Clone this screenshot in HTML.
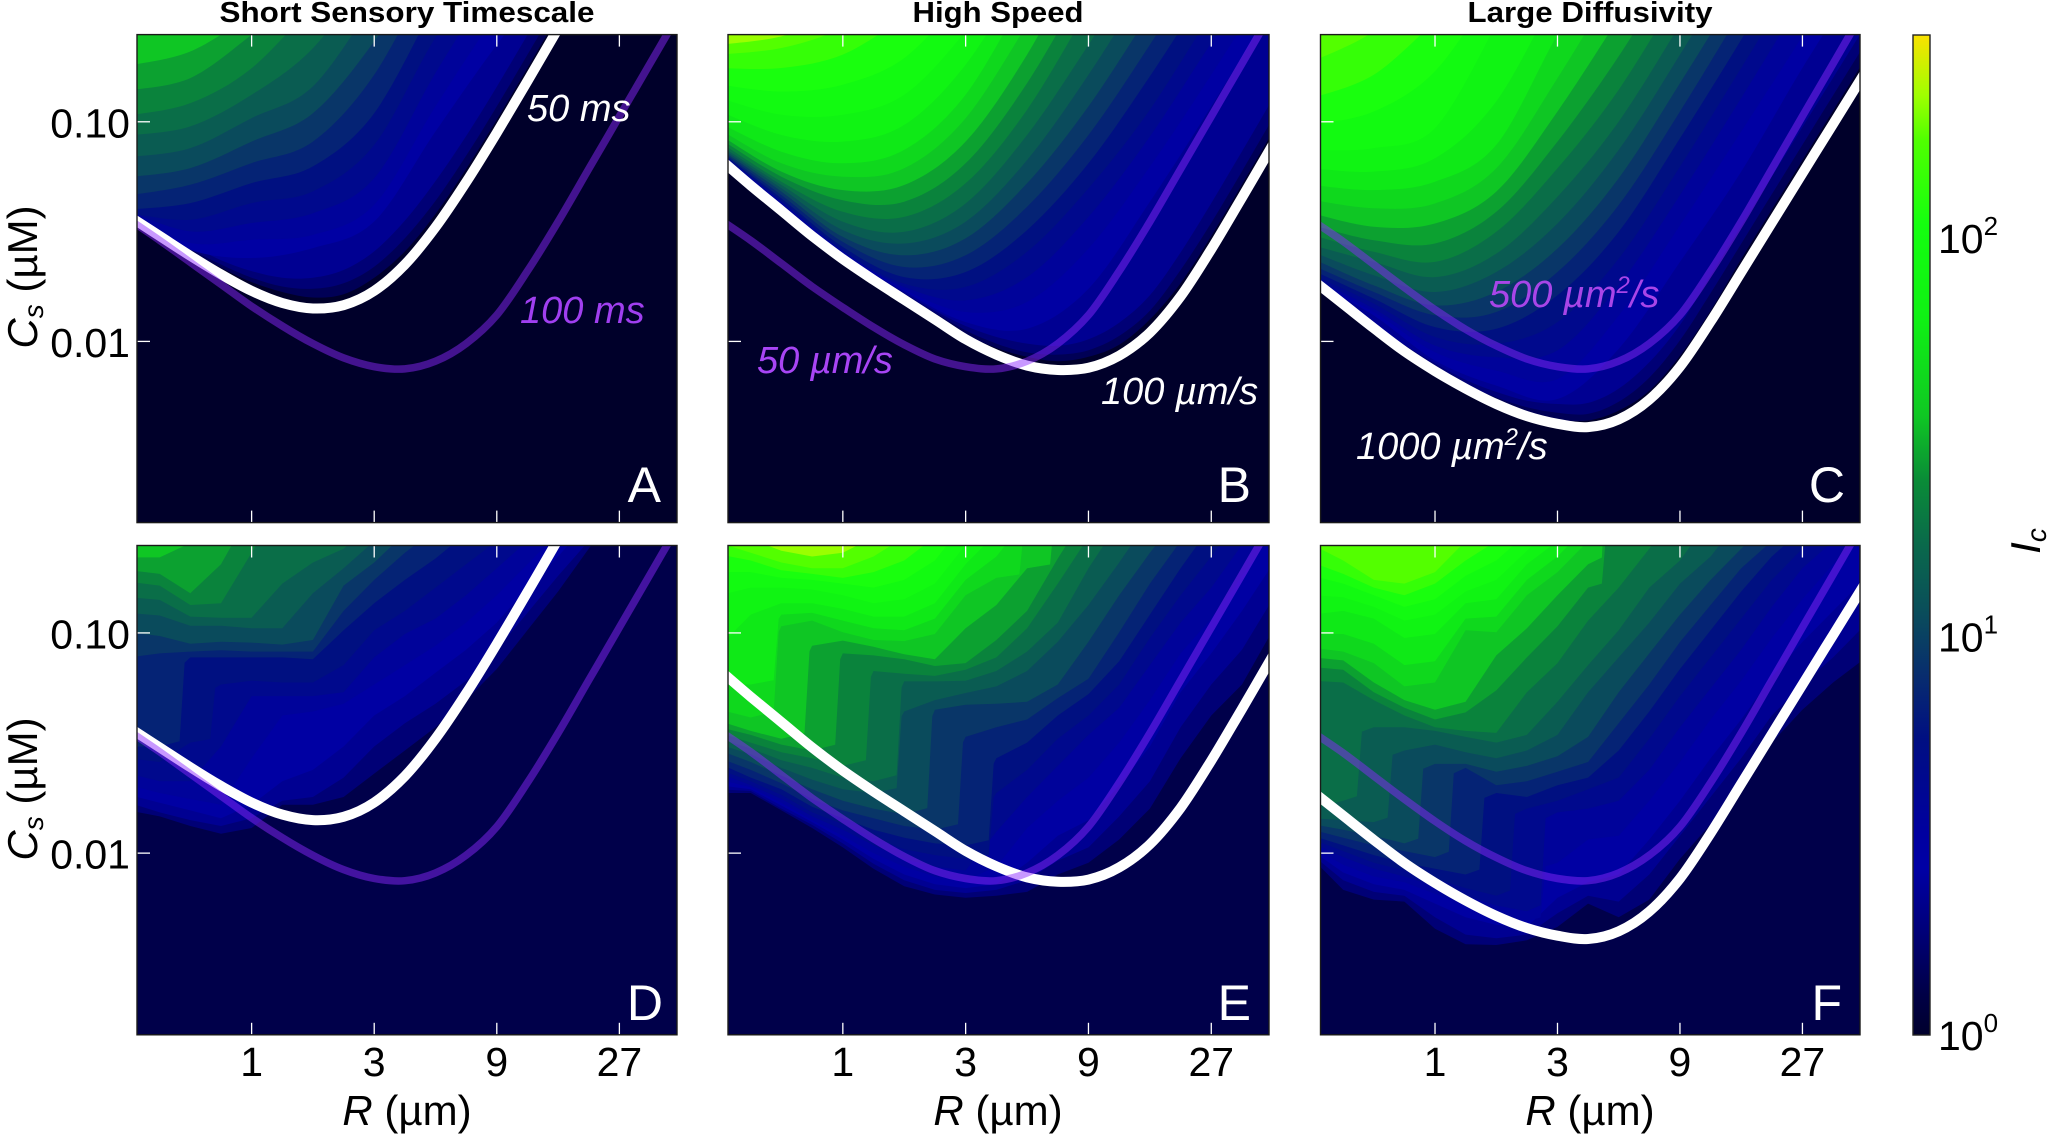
<!DOCTYPE html>
<html lang="en">
<head>
<meta charset="utf-8">
<title>Critical amplification heatmaps</title>
<style>
html,body{margin:0;padding:0;background:#fff;}
svg{display:block;font-family:"Liberation Sans",sans-serif;}
</style>
</head>
<body>
<svg id="figure" xmlns="http://www.w3.org/2000/svg" width="2048" height="1136" viewBox="0 0 2048 1136">
  <defs id="defs"></defs>
  <rect x="0" y="0" width="2048" height="1136" fill="#fff"/>
  <g id="plots"></g>

  <g font-weight="bold" font-size="29" text-anchor="middle" fill="#000">
    <text x="407" y="22" textLength="375" lengthAdjust="spacingAndGlyphs">Short Sensory Timescale</text>
    <text x="998" y="22" textLength="171" lengthAdjust="spacingAndGlyphs">High Speed</text>
    <text x="1590" y="22" textLength="245" lengthAdjust="spacingAndGlyphs">Large Diffusivity</text>
  </g>

  <g font-size="50" text-anchor="end" fill="#fff">
    <text x="661" y="502">A</text>
    <text x="1251" y="502">B</text>
    <text x="1845" y="502">C</text>
    <text x="663" y="1020">D</text>
    <text x="1251" y="1020">E</text>
    <text x="1842" y="1020">F</text>
  </g>

  <g font-size="38" font-style="italic">
    <text x="527" y="121" fill="#fff">50 ms</text>
    <text x="520" y="323" fill="#a03ff0">100 ms</text>
    <text x="757" y="373" fill="#a845f5">50 µm/s</text>
    <text x="1101" y="404" fill="#fff">100 µm/s</text>
    <text x="1489" y="307" fill="#a845e8">500 µm<tspan dy="-14" font-size="24">2</tspan><tspan dy="14">/s</tspan></text>
    <text x="1356" y="459" fill="#fff">1000 µm<tspan dy="-14" font-size="24">2</tspan><tspan dy="14">/s</tspan></text>
  </g>

  <g font-size="42" fill="#000">
    <text transform="translate(37,277) rotate(-90)" text-anchor="middle"><tspan font-style="italic">C</tspan><tspan font-style="italic" font-size="28" dy="6">s</tspan><tspan dy="-6"> (µM)</tspan></text>
    <text transform="translate(37,789) rotate(-90)" text-anchor="middle"><tspan font-style="italic">C</tspan><tspan font-style="italic" font-size="28" dy="6">s</tspan><tspan dy="-6"> (µM)</tspan></text>
    <text x="407" y="1125" text-anchor="middle"><tspan font-style="italic">R</tspan> (µm)</text>
    <text x="998" y="1125" text-anchor="middle"><tspan font-style="italic">R</tspan> (µm)</text>
    <text x="1590" y="1125" text-anchor="middle"><tspan font-style="italic">R</tspan> (µm)</text>
    <text transform="translate(2040,541) rotate(-90)" text-anchor="middle"><tspan font-style="italic">I</tspan><tspan font-style="italic" font-size="28" dy="6">c</tspan></text>
  </g>

  <g id="colorbar"></g>
</svg>

<script>
/* ---------- axis tick data ---------- */
const xTickValues = [1, 3, 9, 27];
const xTickLabels = ["1", "3", "9", "27"];
const yTickValues = [0.1, 0.01];
const yTickLabels = ["0.10", "0.01"];
const colorbarTickValues = [1, 10, 100];
const colorbarTickExponents = ["0", "1", "2"];

/* ---------- colour scale: fraction of the log colourbar and its colour ---------- */
const colorPositions = [0, .04, .103, .167, .2, .296, .36, .425, .49, .555, .62, .715, .81, .895, .94, 1];
const colorValues = ["#00002d", "#000046", "#000078", "#0000a5", "#0000a0", "#000f82", "#082d6e", "#0a4e5a", "#0a694b", "#0a8c37", "#0fc823", "#0ff014", "#14ff0f", "#50ff00", "#a0ff00", "#fae100"];

/* ---------- contour levels: Ic value at the lower edge of each filled band ---------- */
const contourLevels = [1, 1.26, 1.59, 2.0, 2.52, 3.17, 3.99, 5.02, 6.32, 7.96, 10.0, 12.6, 15.9, 20.0, 25.2, 31.7, 39.9, 50.2, 63.2, 79.6, 100, 126, 159, 200];

/* ---------- shared log3(R) sample columns ---------- */
const logRFine = [-1, -.75, -.5, -.25, 0, .25, .5, .75, 1, 1.25, 1.5, 1.75, 2, 2.25, 2.5, 2.75, 3, 3.25, 3.5];
const logRCoarse = [-1, -.5, 0, .5, 1, 1.5, 2, 2.5, 3, 3.5];

/* ---------- threshold curves: log10(Cs) at logRFine ---------- */
const curve50ms = [-1.43, -1.52, -1.61, -1.695, -1.77, -1.825, -1.85, -1.835, -1.77, -1.65, -1.48, -1.275, -1.05, -.815, -.575, -.335, -.095, .145, .385];
const curve100ms = [-1.445, -1.54, -1.64, -1.74, -1.84, -1.93, -2.01, -2.075, -2.115, -2.125, -2.09, -2.01, -1.88, -1.68, -1.455, -1.215, -.975, -.735, -.495];
const curve100ums = [-1.17, -1.29, -1.405, -1.52, -1.625, -1.72, -1.81, -1.90, -1.99, -2.06, -2.11, -2.13, -2.12, -2.065, -1.96, -1.795, -1.58, -1.345, -1.105];
const curve50ums = [-1.445, -1.54, -1.645, -1.75, -1.845, -1.935, -2.015, -2.08, -2.115, -2.125, -2.09, -2.01, -1.88, -1.68, -1.455, -1.215, -.975, -.735, -.495];
const curve1000um2 = [-1.72, -1.83, -1.94, -2.045, -2.135, -2.215, -2.285, -2.34, -2.375, -2.39, -2.355, -2.265, -2.115, -1.91, -1.685, -1.46, -1.235, -1.01, -.785];
const curve500um2 = [-1.45, -1.545, -1.65, -1.755, -1.855, -1.945, -2.02, -2.08, -2.115, -2.125, -2.09, -2.01, -1.88, -1.68, -1.455, -1.215, -.975, -.735, -.495];

/* ---------- panel A contours: level index -> log10(Cs) ---------- */
const fineA = {
  1: [-1.42, -1.51, -1.59, -1.665, -1.73, -1.775, -1.80, -1.785, -1.71, -1.59, -1.42, -1.215, -.99, -.755, -.515],
  2: [-1.42, -1.50, -1.58, -1.65, -1.71, -1.75, -1.76, -1.735, -1.66, -1.53, -1.36, -1.155, -.93, -.695, -.455],
  3: [-1.42, -1.49, -1.56, -1.63, -1.68, -1.71, -1.71, -1.675, -1.59, -1.45, -1.27, -1.065, -.84, -.605, -.365]
};
const coarseA = {
  4: [-1.43, -1.583, -1.62, -1.575, -1.454, -1.044, -.65, -.3],
  5: [-1.43, -1.552, -1.537, -1.515, -1.378, -.93, -.513, -.2],
  6: [-1.408, -1.499, -1.461, -1.416, -1.257, -.778, -.331],
  7: [-1.416, -1.446, -1.37, -1.317, -1.105, -.616, -.225],
  8: [-1.40, -1.37, -1.279, -1.203, -.961, -.452],
  9: [-1.335, -1.287, -1.188, -1.09, -.786, -.27],
  10: [-1.252, -1.211, -1.09, -.961, -.634, -.2],
  11: [-1.161, -1.12, -.983, -.839, -.452],
  12: [-1.062, -1.021, -.877, -.665, -.30],
  13: [-.971, -.915, -.756, -.467],
  14: [-.857, -.801, -.604, -.376],
  15: [-.744, -.68, -.513]
};

/* ---------- panel B contours ---------- */
const fineB = {
  1: [-1.16, -1.28, -1.395, -1.51, -1.615, -1.71, -1.80, -1.89, -1.97, -2.03, -2.07, -2.09, -2.07, -2.015, -1.90, -1.735, -1.52, -1.285, -1.045],
  2: [-1.16, -1.28, -1.395, -1.51, -1.61, -1.705, -1.79, -1.87, -1.95, -2.01, -2.05, -2.06, -2.04, -1.975, -1.86, -1.675, -1.46, -1.225, -.985],
  3: [-1.16, -1.28, -1.39, -1.505, -1.605, -1.70, -1.78, -1.86, -1.93, -1.98, -2.01, -2.02, -1.99, -1.915, -1.79, -1.595, -1.37, -1.135, -.895]
};
const coarseB = {
  4: [-1.151, -1.372, -1.60, -1.772, -1.912, -1.942, -1.76, -1.364, -.93, -.481],
  5: [-1.148, -1.372, -1.595, -1.763, -1.866, -1.82, -1.577, -1.204, -.786, -.344],
  6: [-1.145, -1.367, -1.592, -1.752, -1.813, -1.707, -1.433, -1.067, -.641, -.222],
  7: [-1.14, -1.361, -1.585, -1.737, -1.752, -1.592, -1.303, -.945, -.504],
  8: [-1.136, -1.349, -1.57, -1.707, -1.684, -1.493, -1.189, -.793, -.36],
  9: [-1.13, -1.334, -1.547, -1.661, -1.608, -1.387, -1.06, -.649, -.207],
  10: [-1.124, -1.318, -1.524, -1.608, -1.531, -1.28, -.93, -.504],
  11: [-1.116, -1.303, -1.493, -1.554, -1.455, -1.174, -.786, -.344],
  12: [-1.107, -1.288, -1.455, -1.501, -1.372, -1.06, -.649, -.207],
  13: [-1.093, -1.273, -1.41, -1.433, -1.28, -.945, -.481],
  14: [-1.078, -1.25, -1.357, -1.364, -1.189, -.824, -.344],
  15: [-1.06, -1.227, -1.311, -1.288, -1.09, -.694, -.177],
  16: [-1.037, -1.189, -1.25, -1.212, -.984, -.557],
  17: [-1.006, -1.136, -1.189, -1.128, -.877, -.405],
  18: [-.953, -1.06, -1.09, -1.014, -.74, -.3],
  19: [-.892, -.968, -.968, -.877, -.588, -.2],
  20: [-.831, -.862, -.831, -.71, -.42],
  21: [-.755, -.755, -.694, -.527],
  22: [-.694, -.664, -.573, -.405],
  23: [-.649, -.611, -.512]
};

/* ---------- panel C contours ---------- */
const fineC = {
  1: [-1.71, -1.82, -1.93, -2.035, -2.125, -2.205, -2.275, -2.32, -2.355, -2.36, -2.315, -2.225, -2.065, -1.86, -1.625, -1.40, -1.175, -.95, -.725],
  2: [-1.71, -1.82, -1.925, -2.03, -2.115, -2.195, -2.255, -2.30, -2.325, -2.33, -2.275, -2.165, -1.995, -1.78, -1.555, -1.33, -1.105, -.88, -.655],
  3: [-1.71, -1.815, -1.92, -2.015, -2.10, -2.175, -2.23, -2.27, -2.285, -2.28, -2.215, -2.095, -1.925, -1.70, -1.475, -1.25, -1.025, -.80, -.575]
};
const coarseC = {
  4: [-1.726, -1.882, -2.087, -2.201, -2.262, -2.034, -1.638, -1.227, -.755, -.314],
  5: [-1.722, -1.866, -2.049, -2.133, -2.171, -1.882, -1.471, -1.044, -.611, -.162],
  6: [-1.711, -1.851, -2.019, -2.072, -2.041, -1.745, -1.334, -.892, -.436],
  7: [-1.696, -1.828, -1.98, -2.011, -1.912, -1.623, -1.204, -.755, -.299],
  8: [-1.676, -1.805, -1.935, -1.942, -1.79, -1.501, -1.075, -.626, -.162],
  9: [-1.653, -1.775, -1.881, -1.866, -1.684, -1.379, -.953, -.496],
  10: [-1.623, -1.745, -1.836, -1.775, -1.577, -1.257, -.824, -.375],
  11: [-1.592, -1.699, -1.775, -1.684, -1.463, -1.128, -.694, -.238],
  12: [-1.562, -1.638, -1.707, -1.60, -1.341, -.999, -.557],
  13: [-1.516, -1.592, -1.638, -1.501, -1.212, -.854, -.405],
  14: [-1.471, -1.539, -1.554, -1.41, -1.09, -.702, -.253],
  15: [-1.417, -1.478, -1.463, -1.318, -.953, -.527],
  16: [-1.356, -1.394, -1.372, -1.212, -.801, -.344],
  17: [-1.288, -1.311, -1.273, -1.105, -.603, -.146],
  18: [-1.212, -1.227, -1.166, -.907, -.405],
  19: [-1.128, -1.12, -1.029, -.557],
  20: [-1.014, -.953, -.77, -.375],
  21: [-.892, -.786, -.542],
  22: [-.725, -.588, -.344]
};

/* ---------- panel D contours ---------- */
const fineD = {
  2: [-1.806, -1.833, -1.877, -1.912, -1.886, -1.78, -1.78, -1.745, -1.639, -1.534, -1.428, -1.305, -1.164, -.988, -.812, -.618, -.424],
  3: [-1.771, -1.815, -1.85, -1.877, -1.842, -1.762, -1.745, -1.657, -1.516, -1.41, -1.322, -1.217, -1.076, -.909, -.741, -.583, -.424],
  4: [-1.736, -1.771, -1.806, -1.842, -1.78, -1.674, -1.622, -1.516, -1.375, -1.287, -1.181, -1.076, -.953, -.794, -.653, -.495],
  5: [-1.692, -1.727, -1.754, -1.78, -1.569, -1.375, -1.357, -1.322, -1.234, -1.146, -1.058, -.953, -.829, -.688, -.548, -.424],
  6: [-1.639, -1.674, -1.674, -1.516, -1.287, -1.287, -1.287, -1.269, -1.111, -1.005, -.935, -.829, -.706, -.583, -.46],
  7: [-1.569, -1.586, -1.498, -1.234, -1.217, -1.225, -1.225, -1.146, -.988, -.9, -.794, -.688, -.583, -.477],
  8: [-1.516, -1.516, -1.111, -1.111, -1.111, -1.111, -1.12, -.988, -.865, -.759, -.662, -.548, -.442],
  9: [-1.111, -1.093, -1.085, -1.079, -1.085, -1.085, -1.085, -.9, -.759, -.636, -.53, -.424],
  10: [-.997, -1.014, -1.049, -1.04, -1.044, -1.053, -1.032, -.785, -.68, -.548, -.424],
  11: [-.909, -.921, -.967, -.967, -.979, -.979, -.82, -.706, -.583, -.477],
  12: [-.838, -.85, -.926, -.931, -.931, -.776, -.68, -.618, -.495],
  13: [-.768, -.785, -.873, -.865, -.636, -.407],
  14: [-.715, -.732, -.82, -.688, -.442],
  15: [-.657, -.657, -.592, -.39]
};

/* ---------- panel E contours ---------- */
const fineE = {
  2: [-1.727, -1.727, -1.806, -1.886, -1.974, -2.071, -2.15, -2.188, -2.203, -2.194, -2.176, -2.097, -2.044, -1.938, -1.798, -1.569, -1.375, -1.234, -.988],
  3: [-1.71, -1.718, -1.798, -1.872, -1.956, -2.048, -2.123, -2.167, -2.181, -2.167, -2.123, -2.035, -1.974, -1.833, -1.674, -1.428, -1.234, -1.076, -.847],
  4: [-1.692, -1.71, -1.784, -1.859, -1.938, -2.026, -2.097, -2.141, -2.159, -2.141, -2.044, -1.921, -1.85, -1.692, -1.516, -1.269, -1.093, -.9, -.688],
  5: [-1.666, -1.701, -1.771, -1.85, -1.921, -2.0, -2.062, -2.106, -2.123, -2.062, -1.886, -1.762, -1.657, -1.498, -1.305, -1.093, -.935, -.741, -.548],
  6: [-1.639, -1.692, -1.754, -1.833, -1.894, -1.965, -2.026, -2.062, -2.079, -1.903, -1.745, -1.604, -1.463, -1.34, -1.146, -.953, -.794, -.6, -.424],
  7: [-1.622, -1.674, -1.736, -1.815, -1.868, -1.93, -1.982, -2.009, -2.026, -1.727, -1.622, -1.481, -1.375, -1.234, -1.023, -.829, -.653, -.46],
  8: [-1.595, -1.657, -1.71, -1.789, -1.842, -1.894, -1.93, -1.956, -1.965, -1.569, -1.498, -1.375, -1.278, -1.129, -.917, -.706, -.512],
  9: [-1.569, -1.622, -1.683, -1.754, -1.806, -1.842, -1.877, -1.894, -1.472, -1.428, -1.393, -1.296, -1.208, -.997, -.776, -.583, -.424],
  10: [-1.534, -1.586, -1.648, -1.71, -1.762, -1.798, -1.824, -1.349, -1.326, -1.322, -1.313, -1.234, -1.04, -.829, -.636, -.46],
  11: [-1.507, -1.551, -1.613, -1.666, -1.71, -1.727, -1.357, -1.305, -1.273, -1.243, -1.173, -1.04, -.873, -.68, -.477],
  12: [-1.481, -1.525, -1.578, -1.613, -1.657, -1.674, -1.22, -1.22, -1.217, -1.173, -1.085, -.953, -.706, -.495],
  13: [-1.454, -1.498, -1.542, -1.569, -1.604, -1.173, -1.185, -1.195, -1.167, -1.111, -.979, -.776, -.565, -.389],
  14: [-1.428, -1.463, -1.507, -1.534, -1.093, -1.102, -1.12, -1.15, -1.137, -1.032, -.9, -.662, -.442],
  15: [-1.401, -1.445, -1.481, -1.058, -1.035, -1.063, -1.097, -1.12, -.979, -.873, -.706, -.424],
  16: [-1.349, -1.384, -.97, -.944, -.997, -1.032, -1.037, -1.005, -.829, -.75, -.495],
  17: [-1.234, -1.234, -.917, -.909, -.944, -.979, -.988, -.935, -.759, -.653, -.477],
  18: [-1.058, -.917, -.865, -.865, -.891, -.926, -.926, -.865, -.688, -.548, -.407],
  19: [-.829, -.794, -.794, -.803, -.829, -.865, -.847, -.776, -.6, -.442],
  20: [-.724, -.724, -.75, -.759, -.776, -.794, -.759, -.671, -.495],
  21: [-.644, -.671, -.715, -.732, -.75, -.724, -.671, -.565, -.442],
  22: [-.592, -.636, -.68, -.706, -.706, -.653, -.565, -.46],
  23: [-.512, -.574, -.627, -.653, -.636, -.565, -.477]
};

/* ---------- panel F contours ---------- */
const fineF = {
  2: [-2.026, -2.167, -2.211, -2.22, -2.343, -2.414, -2.417, -2.396, -2.335, -2.229, -2.291, -2.211, -2.026, -1.868, -1.692, -1.498, -1.349, -1.225, -1.12],
  3: [-2.009, -2.123, -2.176, -2.194, -2.291, -2.37, -2.387, -2.37, -2.273, -2.194, -2.22, -2.097, -1.921, -1.745, -1.569, -1.375, -1.234, -1.111, -.97],
  4: [-1.991, -2.088, -2.141, -2.167, -2.229, -2.291, -2.326, -2.335, -2.203, -2.132, -2.097, -1.938, -1.762, -1.569, -1.393, -1.199, -1.041, -.9, -.759],
  5: [-1.974, -2.053, -2.106, -2.132, -2.185, -2.238, -2.282, -2.308, -2.044, -1.938, -1.921, -1.762, -1.586, -1.393, -1.217, -1.023, -.847, -.688, -.539],
  6: [-1.956, -2.018, -2.071, -2.106, -2.15, -2.194, -2.238, -2.264, -1.815, -1.798, -1.762, -1.622, -1.428, -1.252, -1.076, -.882, -.706, -.583, -.46],
  7: [-1.938, -1.991, -2.044, -2.079, -2.115, -2.159, -2.194, -1.798, -1.762, -1.71, -1.657, -1.481, -1.287, -1.111, -.935, -.759, -.618, -.495],
  8: [-1.921, -1.965, -2.009, -2.044, -2.071, -2.097, -1.727, -1.745, -1.692, -1.657, -1.534, -1.357, -1.164, -.988, -.812, -.653, -.53, -.424],
  9: [-1.894, -1.93, -1.965, -1.991, -2.018, -1.613, -1.692, -1.674, -1.63, -1.586, -1.41, -1.234, -1.041, -.873, -.706, -.583, -.442],
  10: [-1.868, -1.894, -1.921, -1.956, -1.595, -1.595, -1.63, -1.604, -1.56, -1.472, -1.269, -1.093, -.917, -.759, -.618, -.477],
  11: [-1.842, -1.85, -1.859, -1.534, -1.507, -1.542, -1.569, -1.534, -1.463, -1.269, -1.111, -.953, -.776, -.653, -.477],
  12: [-1.798, -1.762, -1.428, -1.428, -1.445, -1.472, -1.498, -1.463, -1.313, -1.146, -.988, -.794, -.671, -.477],
  13: [-1.217, -1.225, -1.305, -1.375, -1.428, -1.445, -1.454, -1.269, -1.137, -.944, -.794, -.618, -.424],
  14: [-1.155, -1.167, -1.269, -1.34, -1.393, -1.361, -1.261, -1.111, -.97, -.794, -.495],
  15: [-1.111, -1.125, -1.225, -1.305, -1.349, -1.313, -1.102, -.979, -.829, -.688, -.178],
  16: [-1.067, -1.085, -1.137, -1.243, -1.225, -.988, -.997, -.829, -.724, -.583, -.424],
  17: [-1.005, -1.005, -1.049, -1.146, -1.129, -.935, -.926, -.759, -.653, -.512],
  18: [-.917, -.9, -.935, -1.023, -1.005, -.865, -.847, -.688, -.583, -.46],
  19: [-.829, -.838, -.882, -.944, -.917, -.812, -.759, -.627, -.495],
  20: [-.741, -.776, -.829, -.882, -.847, -.741, -.671, -.548, -.442],
  21: [-.68, -.732, -.794, -.829, -.776, -.671, -.583, -.477],
  22: [-.6, -.671, -.759, -.776, -.724, -.583, -.477]
};

/* ---------- axis domains (log3 R and log10 Cs) ---------- */
const LOGR_MIN = -.935, LOGR_MAX = 3.47, LOGC_MIN = -2.825, LOGC_MAX = -.603;
const COLOR_DECADES = 2.51;

const NS = "http://www.w3.org/2000/svg";
const plots = document.getElementById("plots");
const defs = document.getElementById("defs");

const panels = [
  {id:"a", left:137, top:34.6, w:540, h:488, bg:"#00002a", fine:fineA, coarse:coarseA, smooth:true, stepAt:0, main:curve50ms, second:curve100ms, yLabels:true, xLabels:false},
  {id:"b", left:728, top:34.6, w:541, h:488, bg:"#00002a", fine:fineB, coarse:coarseB, smooth:true, stepAt:0, main:curve100ums, second:curve50ums, yLabels:false, xLabels:false},
  {id:"c", left:1320.5, top:34.6, w:539.5, h:488, bg:"#00002a", fine:fineC, coarse:coarseC, smooth:true, stepAt:0, main:curve1000um2, second:curve500um2, yLabels:false, xLabels:false},
  {id:"d", left:137, top:545.5, w:540, h:489.3, bg:"#00004a", fine:fineD, coarse:{}, smooth:false, stepAt:.65, main:curve50ms, second:curve100ms, yLabels:true, xLabels:true},
  {id:"e", left:728, top:545.5, w:541, h:489.3, bg:"#00004a", fine:fineE, coarse:{}, smooth:false, stepAt:.75, main:curve100ums, second:curve50ums, yLabels:false, xLabels:true},
  {id:"f", left:1320.5, top:545.5, w:539.5, h:489.3, bg:"#00004a", fine:fineF, coarse:{}, smooth:false, stepAt:.45, main:curve1000um2, second:curve500um2, yLabels:false, xLabels:true}
];

function xScale(p, logR){ return p.left + (logR - LOGR_MIN) / (LOGR_MAX - LOGR_MIN) * p.w; }
function yScale(p, logC){ return p.top + (LOGC_MAX - logC) / (LOGC_MAX - LOGC_MIN) * p.h; }
function logThree(r){ return Math.log(r) / Math.log(3); }

function hexToRgb(h){ return [parseInt(h.slice(1,3),16), parseInt(h.slice(3,5),16), parseInt(h.slice(5,7),16)]; }
function colorAt(t){
  if (t <= colorPositions[0]) return colorValues[0];
  for (let i = 1; i < colorPositions.length; i++){
    if (t <= colorPositions[i]){
      const f = (t - colorPositions[i-1]) / (colorPositions[i] - colorPositions[i-1]);
      const a = hexToRgb(colorValues[i-1]), b = hexToRgb(colorValues[i]);
      return "rgb(" + a.map((v,j) => Math.round(v + (b[j]-v)*f)).join(",") + ")";
    }
  }
  return colorValues[colorValues.length-1];
}
function bandColor(k){
  const lower = Math.log10(contourLevels[k]) / COLOR_DECADES;
  const upper = k + 1 < contourLevels.length ? Math.log10(contourLevels[k+1]) / COLOR_DECADES : lower + .04;
  return colorAt((lower + upper) / 2);
}

function make(tag, attrs, parent){
  const el = document.createElementNS(NS, tag);
  for (const key in attrs) el.setAttribute(key, attrs[key]);
  parent.appendChild(el);
  return el;
}

function smoothPath(pts){
  let d = "M" + pts[0][0].toFixed(1) + " " + pts[0][1].toFixed(1);
  for (let i = 0; i < pts.length - 1; i++){
    const p0 = pts[Math.max(i-1,0)], p1 = pts[i], p2 = pts[i+1], p3 = pts[Math.min(i+2,pts.length-1)];
    const c1x = p1[0] + (p2[0]-p0[0])/6, c1y = p1[1] + (p2[1]-p0[1])/6;
    const c2x = p2[0] - (p3[0]-p1[0])/6, c2y = p2[1] - (p3[1]-p1[1])/6;
    d += "C" + c1x.toFixed(1) + " " + c1y.toFixed(1) + " " + c2x.toFixed(1) + " " + c2y.toFixed(1) + " " + p2[0].toFixed(1) + " " + p2[1].toFixed(1);
  }
  return d;
}
/* Coarse simulation contours: big jumps between columns read as near-vertical steps. */
function stepPath(pts, stepAt){
  let d = "M" + pts[0][0].toFixed(1) + " " + pts[0][1].toFixed(1);
  for (let i = 0; i < pts.length - 1; i++){
    const a = pts[i], b = pts[i+1];
    if (Math.abs(b[1]-a[1]) > 55){
      const sx = a[0] + (b[0]-a[0]) * stepAt;
      d += "L" + sx.toFixed(1) + " " + (a[1] + (b[1]-a[1]) * .06).toFixed(1);
      d += "L" + (sx + 5).toFixed(1) + " " + (b[1] - (b[1]-a[1]) * .06).toFixed(1);
    }
    d += "L" + b[0].toFixed(1) + " " + b[1].toFixed(1);
  }
  return d;
}
function rowPoints(p, columns, values){
  return values.map((v,i) => [xScale(p, columns[i]), yScale(p, v)]);
}

panels.forEach(function(p){
  const clip = make("clipPath", {id:"clip-" + p.id}, defs);
  make("rect", {x:p.left, y:p.top, width:p.w, height:p.h}, clip);

  const g = make("g", {}, plots);
  
  

  const inner = make("g", {"clip-path":"url(#clip-" + p.id + ")"}, g);
  
  

  const bg = make("rect", {x:p.left, y:p.top, width:p.w, height:p.h, fill:p.bg}, inner);
  
  

  for (let k = 1; k < contourLevels.length; k++){
    const isFine = !!p.fine[k];
    const values = isFine ? p.fine[k] : p.coarse[k];
    if (!values) continue;
    const pts = rowPoints(p, isFine ? logRFine : logRCoarse, values);
    const last = pts[pts.length-1];
    const outline = p.smooth ? smoothPath(pts) : stepPath(pts, p.stepAt);
    const d = outline + "L" + last[0].toFixed(1) + " " + (p.top-30) + "L" + (p.left-60) + " " + (p.top-30) + "L" + (p.left-60) + " " + pts[0][1].toFixed(1) + "Z";
    const band = make("path", {d:d, fill:bandColor(k)}, inner);
    
    
  }

  const mainLine = make("path", {d:smoothPath(rowPoints(p, logRFine, p.main)), fill:"none", stroke:"#fff", "stroke-width":10}, inner);
  
  

  const secondLine = make("path", {d:smoothPath(rowPoints(p, logRFine, p.second)), fill:"none", stroke:"#8c28ff", "stroke-width":7.5, "stroke-opacity":.48}, inner);
  
  

  xTickValues.forEach(function(v, i){
    const x = xScale(p, logThree(v));
    const t1 = make("line", {x1:x, x2:x, y1:p.top, y2:p.top+12, stroke:"#fff", "stroke-width":1.3}, g);
    
    
    const t2 = make("line", {x1:x, x2:x, y1:p.top+p.h, y2:p.top+p.h-12, stroke:"#fff", "stroke-width":1.3}, g);
    
    
    if (p.xLabels){
      const label = make("text", {x:x, y:1076, "font-size":41, "text-anchor":"middle", fill:"#000"}, g);
      
      
      label.textContent = xTickLabels[i];
    }
  });
  yTickValues.forEach(function(v, i){
    const y = yScale(p, Math.log10(v));
    const t = make("line", {x1:p.left, x2:p.left+13, y1:y, y2:y, stroke:"#fff", "stroke-width":1.3}, g);
    
    
    if (p.yLabels){
      const label = make("text", {x:130, y:y+15.5, "font-size":41, "text-anchor":"end", fill:"#000"}, g);
      
      
      label.textContent = yTickLabels[i];
    }
  });

  const frame = make("rect", {x:p.left, y:p.top, width:p.w, height:p.h, fill:"none", stroke:"#1a1a1a", "stroke-width":1.4}, g);
  
  
});

/* ---------- colour bar ---------- */
(function(){
  const cb = document.getElementById("colorbar");
  const barLeft = 1913, barTop = 35, barW = 17, barH = 1000;
  const grad = make("linearGradient", {id:"cbar-gradient", x1:0, y1:1, x2:0, y2:0}, defs);
  colorPositions.forEach(function(pos, i){
    make("stop", {offset:pos, "stop-color":colorValues[i]}, grad);
  });
  const rect = make("rect", {x:barLeft, y:barTop, width:barW, height:barH, fill:"url(#cbar-gradient)", stroke:"#222", "stroke-width":1.4}, cb);
  
  
  colorbarTickValues.forEach(function(v, i){
    const y = barTop + barH - Math.log10(v) / COLOR_DECADES * barH;
    const label = make("text", {x:1938, y:y+15, "font-size":41, fill:"#000"}, cb);
    
    
    label.textContent = "10";
    const exp = make("tspan", {dy:-18, "font-size":26}, label);
    exp.textContent = colorbarTickExponents[i];
  });
})();
</script>
</body>
</html>
